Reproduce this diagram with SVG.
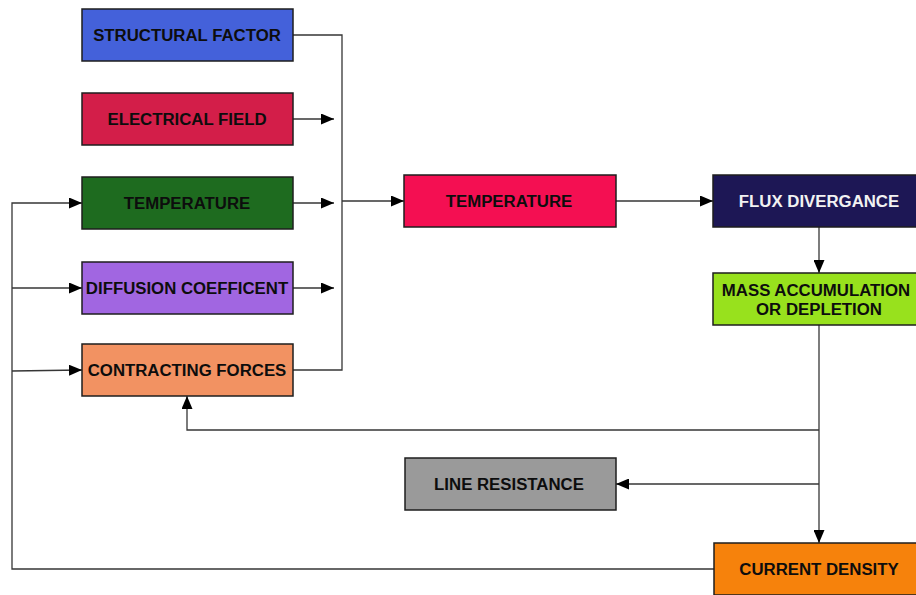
<svg xmlns="http://www.w3.org/2000/svg" width="916" height="595" viewBox="0 0 916 595">
  <defs>
    <marker id="arrow" markerUnits="userSpaceOnUse" markerWidth="13" markerHeight="11" refX="13" refY="5.5" orient="auto">
      <path d="M0,0 L13,5.5 L0,11 z" fill="#000"/>
    </marker>
    <style>
      .box { stroke: #1e1e1e; stroke-width: 1.5; }
      .lbl { font-family: "Liberation Sans", Arial, sans-serif; font-weight: bold; font-size: 16.8px; fill: #0d0d0d; text-anchor: middle; }
      .lbl.light { fill: #f2f2f2; }
      .wire { fill: none; stroke: #363636; stroke-width: 1.3; }
      .wire.arr { marker-end: url(#arrow); }
    </style>
  </defs>
  <rect width="916" height="595" fill="#fff"/>

  <!-- connectors -->
  <g id="connectors">
    <!-- input collection bus -->
    <path class="wire" d="M293,35 H342 V370 H293"/>
    <path class="wire arr" d="M293,119 H334"/>
    <path class="wire arr" d="M293,203 H334"/>
    <path class="wire arr" d="M293,288 H334"/>
    <path class="wire arr" d="M342,201 H404"/>
    <!-- main chain -->
    <path class="wire arr" d="M616,201 H713"/>
    <path class="wire arr" d="M819,227 V273"/>
    <path class="wire arr" d="M819,325 V543"/>
    <!-- feedback branches -->
    <path class="wire arr" d="M819,430 H187 V396"/>
    <path class="wire arr" d="M819,484 H616"/>
    <!-- current density return loop -->
    <path class="wire arr" d="M714,569 H12 V203 H82"/>
    <path class="wire arr" d="M12,288 H82"/>
    <path class="wire arr" d="M12,371 L82,370"/>
  </g>

  <g id="structural-factor">
    <rect class="box" x="82" y="9" width="211" height="52" fill="#4461DA"/>
    <text class="lbl" x="187" y="41">STRUCTURAL FACTOR</text>
  </g>
  <g id="electrical-field">
    <rect class="box" x="82" y="93" width="211" height="52" fill="#D31E49"/>
    <text class="lbl" x="187" y="125">ELECTRICAL FIELD</text>
  </g>
  <g id="temperature-in">
    <rect class="box" x="82" y="177" width="211" height="52" fill="#1E6B1F"/>
    <text class="lbl" x="187" y="209">TEMPERATURE</text>
  </g>
  <g id="diffusion-coefficent">
    <rect class="box" x="82" y="262" width="211" height="52" fill="#A166E1"/>
    <text class="lbl" x="187" y="294">DIFFUSION COEFFICENT</text>
  </g>
  <g id="contracting-forces">
    <rect class="box" x="82" y="344" width="211" height="52" fill="#F29262"/>
    <text class="lbl" x="187" y="376">CONTRACTING FORCES</text>
  </g>
  <g id="temperature">
    <rect class="box" x="404" y="175" width="212" height="52" fill="#F40F52"/>
    <text class="lbl" x="509" y="207">TEMPERATURE</text>
  </g>
  <g id="flux-divergance">
    <rect class="box" x="713" y="175" width="212" height="52" fill="#1D1755"/>
    <text class="lbl light" x="819" y="207">FLUX DIVERGANCE</text>
  </g>
  <g id="mass-accumulation">
    <rect class="box" x="713" y="273" width="212" height="52" fill="#98E11D"/>
    <text class="lbl" x="816" y="296">MASS ACCUMULATION</text>
    <text class="lbl" x="819" y="315">OR DEPLETION</text>
  </g>
  <g id="line-resistance">
    <rect class="box" x="405" y="458" width="211" height="52" fill="#9A9A9A"/>
    <text class="lbl" x="509" y="490">LINE RESISTANCE</text>
  </g>
  <g id="current-density">
    <rect class="box" x="714" y="543" width="212" height="52" fill="#F6820C"/>
    <text class="lbl" x="819" y="575">CURRENT DENSITY</text>
  </g>
</svg>
